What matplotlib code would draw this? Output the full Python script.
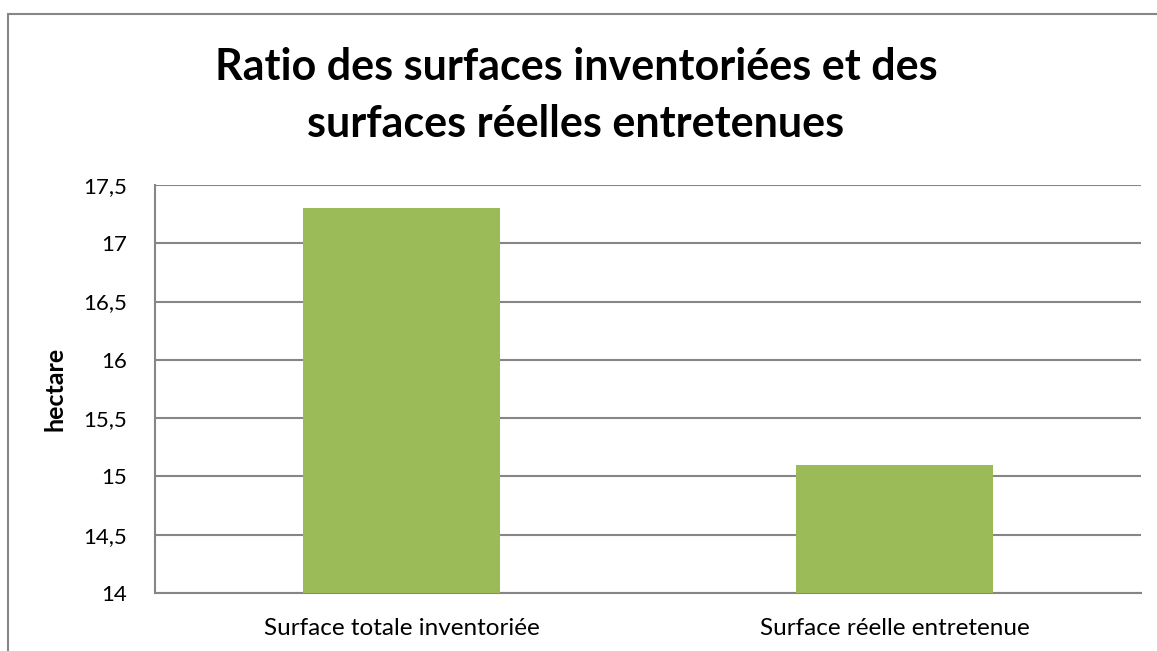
import matplotlib.pyplot as plt
from matplotlib.patches import Rectangle
from matplotlib.ticker import FuncFormatter

# DATA
categories = ['Surface totale inventoriée', 'Surface réelle entretenue']
surfaces = [17.3, 15.1]
y_ticks = [14, 14.5, 15, 15.5, 16, 16.5, 17, 17.5]
title_lines = ['Ratio des surfaces inventoriées et des', 'surfaces réelles entretenues']

W, H = 1157, 651
plt.rcParams['font.family'] = ['Lato', 'DejaVu Sans']
fig = plt.figure(figsize=(W / 100, H / 100), dpi=100)
fig.patch.set_facecolor('white')

# plot area in pixel coordinates
left, right, top, bottom = 155, 1141, 185, 593
ax = fig.add_axes([left / W, 1 - bottom / H, (right - left) / W, (bottom - top) / H])

grey = '#868686'
ax.bar(range(len(categories)), surfaces, width=0.4, color='#9BBB59', zorder=3)
ax.set_xlim(-0.5, len(categories) - 0.5)
ax.set_ylim(14, 17.5)
ax.set_yticks(y_ticks)
ax.yaxis.set_major_formatter(FuncFormatter(lambda v, p: ('%g' % v).replace('.', ',')))
ax.set_xticks(range(len(categories)))
ax.set_xticklabels(categories)
ax.tick_params(axis='both', length=0, colors='black')
ax.tick_params(axis='y', labelsize=16, pad=20)
ax.tick_params(axis='x', labelsize=17.5, pad=18)
ax.grid(axis='y', color=grey, linewidth=1.5, zorder=0)
for s in ['top', 'right']:
    ax.spines[s].set_visible(False)
for s in ['left', 'bottom']:
    ax.spines[s].set_color(grey)
    ax.spines[s].set_linewidth(1.5)

ax.set_ylabel('hectare', fontsize=18, fontweight='bold', labelpad=12)

# title, one text per line so the baselines can be placed
for line, base in zip(title_lines, [80, 137]):
    fig.text(576 / W, 1 - base / H, line, ha='center', va='baseline',
             fontsize=31, fontweight='bold')

# chart border
fig.patches.append(Rectangle((8 / W, -0.1), 1.2, 1 - 14 / H + 0.1, transform=fig.transFigure,
                             fill=False, edgecolor=grey, linewidth=1.5))

fig.savefig('out.png', dpi=100)
